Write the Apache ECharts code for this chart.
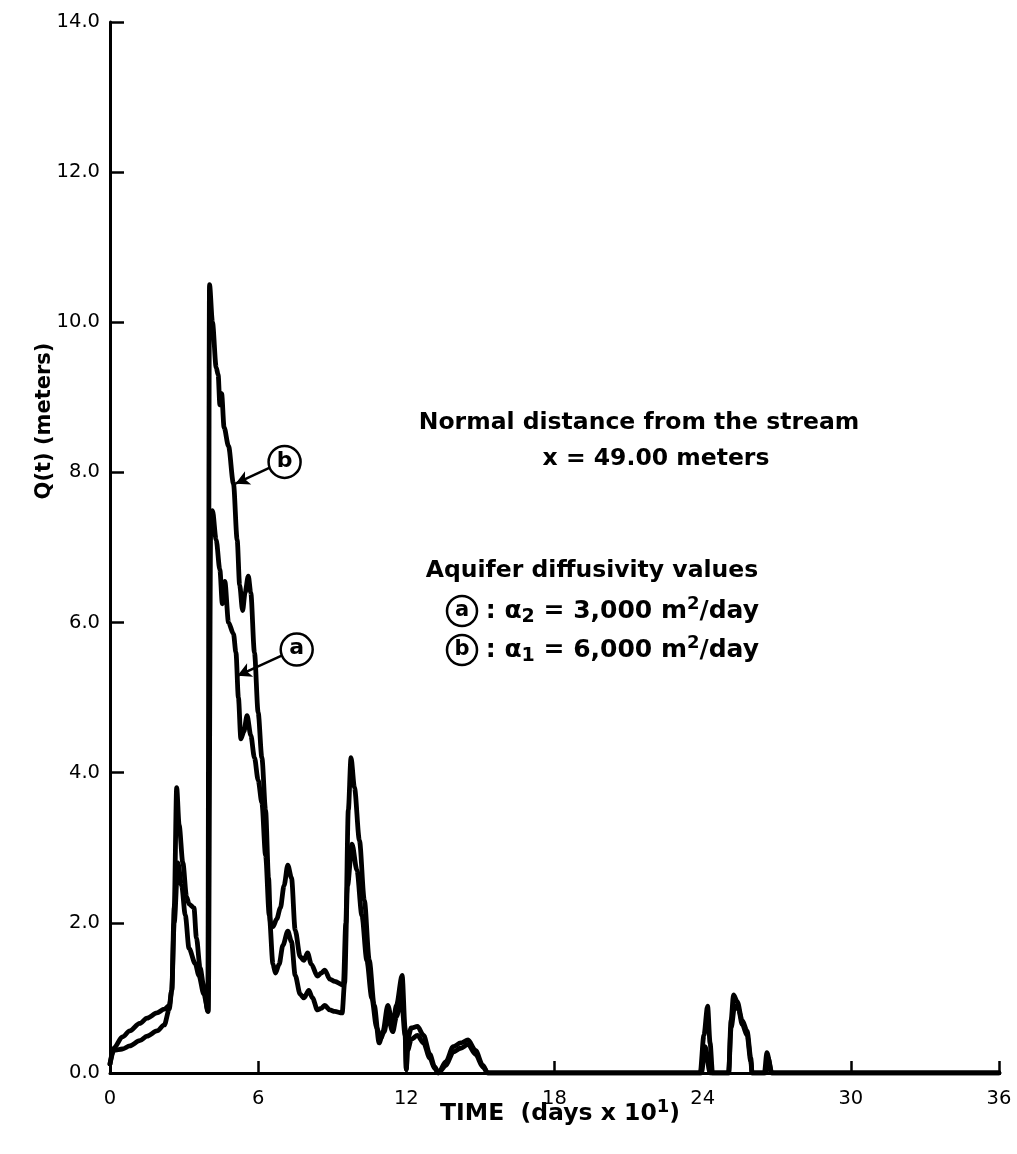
<!DOCTYPE html>
<html>
<head>
<meta charset="utf-8">
<script src="https://cdn.jsdelivr.net/npm/echarts@6/dist/echarts.min.js"></script>
<style>html,body{margin:0;padding:0;background:#fff}#c{width:1017px;height:1154px}</style>
</head>
<body>
<div id="c"></div>
<script>
// Curve b : alpha1 = 6,000 m2/day
var timeB = [0,0.15,0.5,0.8,1.2,1.5,1.9,2.2,2.4,2.5,2.6,2.7,2.8,2.95,3.1,3.2,3.4,3.5,3.65,3.8,3.96,4.03,4.15,4.3,4.38,4.45,4.52,4.62,4.8,5.0,5.15,5.25,5.37,5.47,5.6,5.7,5.85,6.0,6.15,6.3,6.42,6.5,6.6,6.75,6.9,7.05,7.2,7.35,7.5,7.7,7.85,8.0,8.15,8.4,8.55,8.7,8.9,9.1,9.45,9.55,9.65,9.76,9.9,10.1,10.3,10.5,10.7,10.9,11.05,11.25,11.45,11.6,11.83,11.95,12.0,12.05,12.2,12.45,12.7,12.95,13.15,13.3,13.6,13.9,14.2,14.5,14.8,15.1,15.3,23.9,24.05,24.2,24.3,24.4,25.05,25.15,25.25,25.4,25.6,25.8,25.95,26.0,26.5,26.6,26.8,36];
var valuesB = [0.12,0.33,0.48,0.56,0.66,0.73,0.8,0.85,0.9,1.1,2.2,3.8,3.3,2.8,2.35,2.25,2.2,1.8,1.4,1.15,0.82,10.5,10.0,9.4,9.3,8.9,9.05,8.6,8.35,7.85,7.1,6.5,6.16,6.4,6.62,6.4,5.6,4.8,4.2,3.5,2.6,2.0,1.95,2.05,2.2,2.5,2.77,2.6,1.9,1.55,1.5,1.6,1.45,1.29,1.33,1.37,1.25,1.22,1.17,2.0,3.5,4.2,3.8,3.1,2.3,1.5,0.9,0.4,0.55,0.9,0.64,0.9,1.3,0.6,0.05,0.45,0.6,0.62,0.5,0.25,0.08,0,0.15,0.35,0.4,0.44,0.3,0.1,0,0,0.5,0.89,0.4,0,0,0.7,1.04,0.95,0.7,0.56,0.2,0,0,0.27,0,0];
// Curve a : alpha2 = 3,000 m2/day
var timeA = [0,0.15,0.5,0.8,1.2,1.5,1.9,2.2,2.4,2.5,2.6,2.75,2.9,3.05,3.2,3.45,3.6,3.8,3.98,4.08,4.15,4.3,4.45,4.55,4.65,4.8,5.0,5.1,5.2,5.3,5.42,5.55,5.7,5.85,6.0,6.15,6.3,6.45,6.6,6.7,6.85,7.0,7.2,7.35,7.5,7.7,7.85,8.05,8.2,8.4,8.55,8.7,8.9,9.1,9.4,9.5,9.62,9.8,10.0,10.2,10.4,10.6,10.8,10.95,11.1,11.25,11.45,11.6,11.8,11.95,12.0,12.05,12.2,12.45,12.7,12.95,13.15,13.3,13.6,13.9,14.2,14.5,14.8,15.1,15.3,23.95,24.1,24.3,25.05,25.15,25.3,25.45,25.6,25.8,25.95,26.0,26.55,26.65,26.8,36];
var valuesA = [0.12,0.3,0.32,0.36,0.43,0.49,0.56,0.64,0.85,1.1,2.0,2.8,2.5,2.1,1.66,1.46,1.3,1.05,0.82,7.3,7.49,7.1,6.7,6.25,6.55,6.0,5.85,5.6,5.0,4.45,4.55,4.76,4.5,4.2,3.9,3.6,2.9,2.1,1.45,1.33,1.45,1.7,1.89,1.75,1.3,1.05,1.0,1.1,1.0,0.84,0.86,0.9,0.84,0.82,0.8,1.2,2.5,3.05,2.7,2.1,1.5,1.0,0.6,0.45,0.55,0.75,0.55,0.75,1.0,0.5,0.05,0.3,0.45,0.5,0.4,0.2,0.06,0,0.1,0.28,0.33,0.38,0.25,0.08,0,0,0.35,0,0,0.6,0.9,0.85,0.65,0.5,0.15,0,0,0.2,0,0];

var xTicks = [0,6,12,18,24,30,36];
var yTicks = [0,2,4,6,8,10,12,14];

// annotation anchors (data coordinates): circle centre, arrow start, arrow tip
var labelB = {name:'b', circle:[7.07,8.14], from:[6.45,8.06], to:[5.08,7.85]};
var labelA = {name:'a', circle:[7.56,5.64], from:[6.95,5.56], to:[5.16,5.29]};

function pairs(t, v){ var o=[]; for(var i=0;i<t.length;i++){ o.push([t[i], v[i]]); } return o; }

var FONT = '"DejaVu Sans", sans-serif';

function annot(l){
  return {
    markLine: {
      silent: true, symbol: ['none','arrow'], symbolSize: [11,14],
      lineStyle: {color:'#000', width: 2.5, type:'solid'},
      label: {show:false},
      data: [[{coord: l.from}, {coord: l.to}]]
    },
    markPoint: {
      silent: true, symbol: 'circle', symbolSize: 32,
      itemStyle: {color:'#fff', borderColor:'#000', borderWidth: 2.5},
      label: {show:true, position:'inside', formatter: l.name, color:'#000', fontSize: 22, fontWeight:'bold', fontFamily: FONT, offset:[0,-1]},
      data: [{coord: l.circle}]
    }
  };
}

var chart = echarts.init(document.getElementById('c'), null, {renderer:'canvas'});
var lineStyle = {color:'#000', width: 4.8, cap:'round', join:'round'};

var sB = Object.assign({type:'line', name:'b', data: pairs(timeB, valuesB), showSymbol:false, smooth:0.3, smoothMonotone:'x', lineStyle: lineStyle, z:3}, annot(labelB));
var sA = Object.assign({type:'line', name:'a', data: pairs(timeA, valuesA), showSymbol:false, smooth:0.3, smoothMonotone:'x', lineStyle: lineStyle, z:3}, annot(labelA));

var rich = {
  t: {fontSize: 23.5, fontWeight:'bold', fontFamily: FONT, color:'#000', lineHeight: 32},
  u: {fontSize: 25, fontWeight:'bold', fontFamily: FONT, color:'#000', lineHeight: 32},
  s: {fontSize: 19, fontWeight:'bold', fontFamily: FONT, color:'#000', lineHeight: 19, verticalAlign:'bottom'},
  p: {fontSize: 18, fontWeight:'bold', fontFamily: FONT, color:'#000', lineHeight: 18, verticalAlign:'top'},
  c: {fontSize: 21, fontWeight:'bold', fontFamily: FONT, color:'#000', width: 30, height: 30, lineHeight: 30, borderRadius: 16, borderColor:'#000', borderWidth: 2.5, align:'center'}
};

chart.setOption({
  animation: false,
  backgroundColor: '#fff',
  grid: {left: 110, right: 18, top: 22, bottom: 81, containLabel: false},
  xAxis: {
    type: 'value', min: 0, max: 36, interval: 6,
    axisLine: {show:true, lineStyle:{color:'#000', width:3}},
    axisTick: {show:true, inside:true, length:12, lineStyle:{color:'#000', width:2.5}},
    splitLine: {show:false},
    axisLabel: {color:'#000', fontSize:19.5, fontFamily: FONT, margin: 16,
      customValues: xTicks},
  },
  yAxis: {
    type: 'value', min: 0, max: 14, interval: 2,
    axisLine: {show:true, lineStyle:{color:'#000', width:3}},
    axisTick: {show:true, inside:true, length:14, lineStyle:{color:'#000', width:2.5}},
    splitLine: {show:false},
    axisLabel: {color:'#000', fontSize:19.5, fontFamily: FONT, margin: 10,
      formatter: function(v){ return yTicks.indexOf(v) >= 0 ? v.toFixed(1) : ''; }}
  },
  graphic: [
    {type:'text', x: 45, y: 421, rotation: Math.PI/2, style:{text:'Q(t) (meters)', font:'bold 21px ' + FONT, fill:'#000', align:'center', verticalAlign:'middle'}},
    {type:'text', x: 560, y: 1114, style:{text:'{t|TIME  (days x 10}{p|1}{t|)}', rich: rich, align:'center', verticalAlign:'middle'}},
    {type:'text', x: 639, y: 423, style:{text:'Normal distance from the stream', font:'bold 23.5px ' + FONT, fill:'#000', align:'center', verticalAlign:'middle'}},
    {type:'text', x: 656, y: 459, style:{text:'x = 49.00 meters', font:'bold 23.5px ' + FONT, fill:'#000', align:'center', verticalAlign:'middle'}},
    {type:'text', x: 592, y: 571, style:{text:'Aquifer diffusivity values', font:'bold 23.5px ' + FONT, fill:'#000', align:'center', verticalAlign:'middle'}},
    {type:'text', x: 447, y: 611, style:{text:'{c|a}{u| : α}{s|2}{u| = 3,000 m}{p|2}{u|/day}', rich: rich, align:'left', verticalAlign:'middle'}},
    {type:'text', x: 447, y: 650, style:{text:'{c|b}{u| : α}{s|1}{u| = 6,000 m}{p|2}{u|/day}', rich: rich, align:'left', verticalAlign:'middle'}}
  ],
  series: [sA, sB]
});
</script>
</body>
</html>
